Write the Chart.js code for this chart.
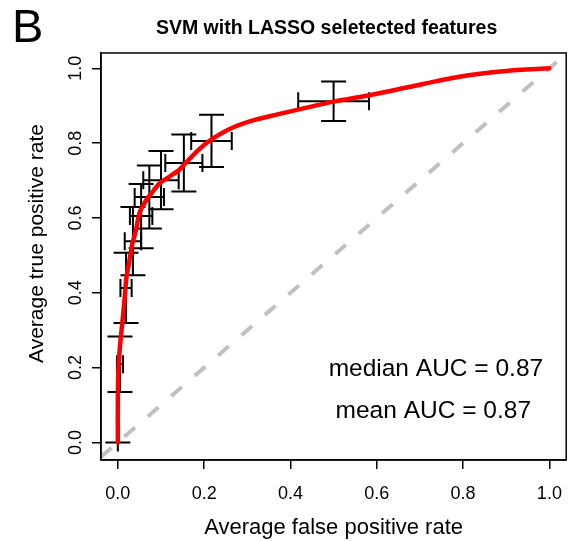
<!DOCTYPE html>
<html><head><meta charset="utf-8">
<script src="https://cdn.jsdelivr.net/npm/chart.js@4.4.1/dist/chart.umd.min.js"></script>
<style>html,body{margin:0;padding:0;background:#fff;}canvas{display:block;}</style>
</head><body>
<canvas id="c" width="576" height="541"></canvas>
<script>
// ---- data ----
const rocFpr = [0.000,0.000,0.002,0.006,0.011,0.016,0.020,0.027,0.034,0.042,0.050,0.066,0.078,0.096,0.119,0.142,0.157,0.187,0.217,0.263,0.317,0.370,0.430,0.500,0.582,0.674,0.788,0.900,1.000];
const rocTpr = [0.000,0.120,0.210,0.270,0.327,0.389,0.442,0.487,0.533,0.567,0.613,0.648,0.666,0.692,0.710,0.728,0.747,0.782,0.810,0.840,0.862,0.877,0.893,0.911,0.928,0.950,0.977,0.993,1.000];
const errFpr   = [0.000,0.005,0.019,0.035,0.054,0.073,0.100,0.153,0.217,0.500];
const errTpr   = [0.000,0.209,0.413,0.538,0.605,0.656,0.701,0.747,0.806,0.912];
const errFprSe = [0.000,0.007,0.013,0.019,0.026,0.034,0.041,0.043,0.047,0.082];
const errTprSe = [0.000,0.074,0.094,0.091,0.086,0.084,0.078,0.076,0.070,0.053];
const tickValues = [0.0,0.2,0.4,0.6,0.8,1.0];
const xLimits = [-0.039, 1.039];
const yLimits = [-0.047, 1.041];
const panelLabel = 'B';
const chartTitle = 'SVM with LASSO seletected features';
const xTitle = 'Average false positive rate';
const yTitle = 'Average true positive rate';
const aucLabels = ['median AUC = 0.87','mean AUC = 0.87'];
const aucX = [0.737, 0.731];
const aucY = [0.196, 0.084];

const FONT = "'Liberation Sans', Arial, Helvetica, sans-serif";
Chart.defaults.font.family = FONT;
Chart.defaults.color = '#000';

const rocData = rocFpr.map((x,i)=>({x, y: rocTpr[i]}));
const diagData = xLimits.map(v=>({x:v, y:v}));

const errorBarPlugin = {
  id: 'errbars',
  beforeDatasetDraw(chart, args) {
    if (args.index !== 0) return;
    const xs = chart.scales.x, ys = chart.scales.y;
    const ctx = chart.ctx;
    ctx.save();
    ctx.strokeStyle = '#000';
    ctx.lineWidth = 2;
    ctx.lineCap = 'butt';
    const capW = 12.5, capH = 9;
    for (let i = 0; i < errFpr.length; i++) {
      const cx = xs.getPixelForValue(errFpr[i]);
      const cy = ys.getPixelForValue(errTpr[i]);
      const x0 = xs.getPixelForValue(errFpr[i]-errFprSe[i]);
      const x1 = xs.getPixelForValue(errFpr[i]+errFprSe[i]);
      const y0 = ys.getPixelForValue(errTpr[i]-errTprSe[i]);
      const y1 = ys.getPixelForValue(errTpr[i]+errTprSe[i]);
      ctx.beginPath();
      ctx.moveTo(cx, y0); ctx.lineTo(cx, y1);
      ctx.moveTo(cx-capW, y0); ctx.lineTo(cx+capW, y0);
      ctx.moveTo(cx-capW, y1); ctx.lineTo(cx+capW, y1);
      ctx.moveTo(x0, cy); ctx.lineTo(x1, cy);
      ctx.moveTo(x0, cy-capH); ctx.lineTo(x0, cy+capH);
      ctx.moveTo(x1, cy-capH); ctx.lineTo(x1, cy+capH);
      ctx.stroke();
    }
    ctx.restore();
  }
};

const decorPlugin = {
  id: 'decor',
  beforeDraw(chart) {
    const ctx = chart.ctx;
    ctx.save();
    ctx.fillStyle = '#fff';
    ctx.fillRect(0,0,chart.width,chart.height);
    ctx.restore();
  },
  afterDraw(chart) {
    const ctx = chart.ctx, a = chart.chartArea;
    const xs = chart.scales.x, ys = chart.scales.y;
    ctx.save();
    ctx.strokeStyle = '#000';
    ctx.lineWidth = 1.5;
    ctx.strokeRect(a.left, a.top, a.right - a.left, a.bottom - a.top);
    ctx.fillStyle = '#000';
    ctx.font = '47px ' + FONT;
    ctx.textAlign = 'left'; ctx.textBaseline = 'alphabetic';
    ctx.fillText(panelLabel, 12, 42);
    ctx.font = 'bold 19.5px ' + FONT;
    ctx.textAlign = 'center';
    ctx.fillText(chartTitle, (a.left + a.right)/2 - 7, 34);
    ctx.font = '18px ' + FONT;
    ctx.textBaseline = 'middle';
    tickValues.forEach(v => {
      const py = ys.getPixelForValue(v);
      ctx.save();
      ctx.translate(a.left - 25, py);
      ctx.rotate(-Math.PI/2);
      ctx.fillText(v.toFixed(1), 0, 0);
      ctx.restore();
    });
    ctx.font = '21px ' + FONT;
    ctx.save();
    ctx.translate(a.left - 64, (a.top + a.bottom)/2 - 13);
    ctx.rotate(-Math.PI/2);
    ctx.fillText(yTitle, 0, 0);
    ctx.restore();
    ctx.font = '24.5px ' + FONT;
    aucLabels.forEach((t,i) => {
      ctx.fillText(t, xs.getPixelForValue(aucX[i]), ys.getPixelForValue(aucY[i]));
    });
    ctx.restore();
  }
};

new Chart(document.getElementById('c'), {
  type: 'scatter',
  data: {
    datasets: [
      { data: rocData, showLine: true, borderColor: '#ff0000', borderWidth: 4.5,
        pointRadius: 0, tension: 0.25, borderCapStyle: 'round', borderJoinStyle: 'round', fill: false },
      { data: diagData, showLine: true, borderColor: '#c0c0c0', borderWidth: 4,
        borderDash: [14,17], pointRadius: 0, borderCapStyle: 'butt', fill: false }
    ]
  },
  options: {
    responsive: false,
    animation: false,
    devicePixelRatio: 1,
    layout: { padding: { left: 0, top: 53, right: 3, bottom: 0 } },
    plugins: { legend: { display: false }, tooltip: { enabled: false }, title: { display: false } },
    scales: {
      x: {
        type: 'linear', position: 'bottom', min: xLimits[0], max: xLimits[1],
        afterBuildTicks: s => { s.ticks = tickValues.map(v => ({ value: v })); },
        afterFit: s => { s.height = 81; },
        ticks: { font: { size: 18 }, color: '#000', padding: 14, maxRotation: 0, autoSkip: false,
                 callback: v => Number(v).toFixed(1) },
        grid: { display: true, drawOnChartArea: false, drawTicks: true, tickLength: 9, color: '#000', lineWidth: 1.5 },
        border: { display: true, color: '#000', width: 1.5 },
        title: { display: true, text: xTitle, font: { size: 22 }, color: '#000', padding: { top: 0, bottom: 0 } }
      },
      y: {
        type: 'linear', position: 'left', min: yLimits[0], max: yLimits[1],
        afterBuildTicks: s => { s.ticks = tickValues.map(v => ({ value: v })); },
        afterFit: s => { s.width = 101; },
        ticks: { display: false },
        grid: { display: true, drawOnChartArea: false, drawTicks: true, tickLength: 9, color: '#000', lineWidth: 1.5 },
        border: { display: true, color: '#000', width: 1.5 }
      }
    }
  },
  plugins: [errorBarPlugin, decorPlugin]
});
</script>
</body></html>
